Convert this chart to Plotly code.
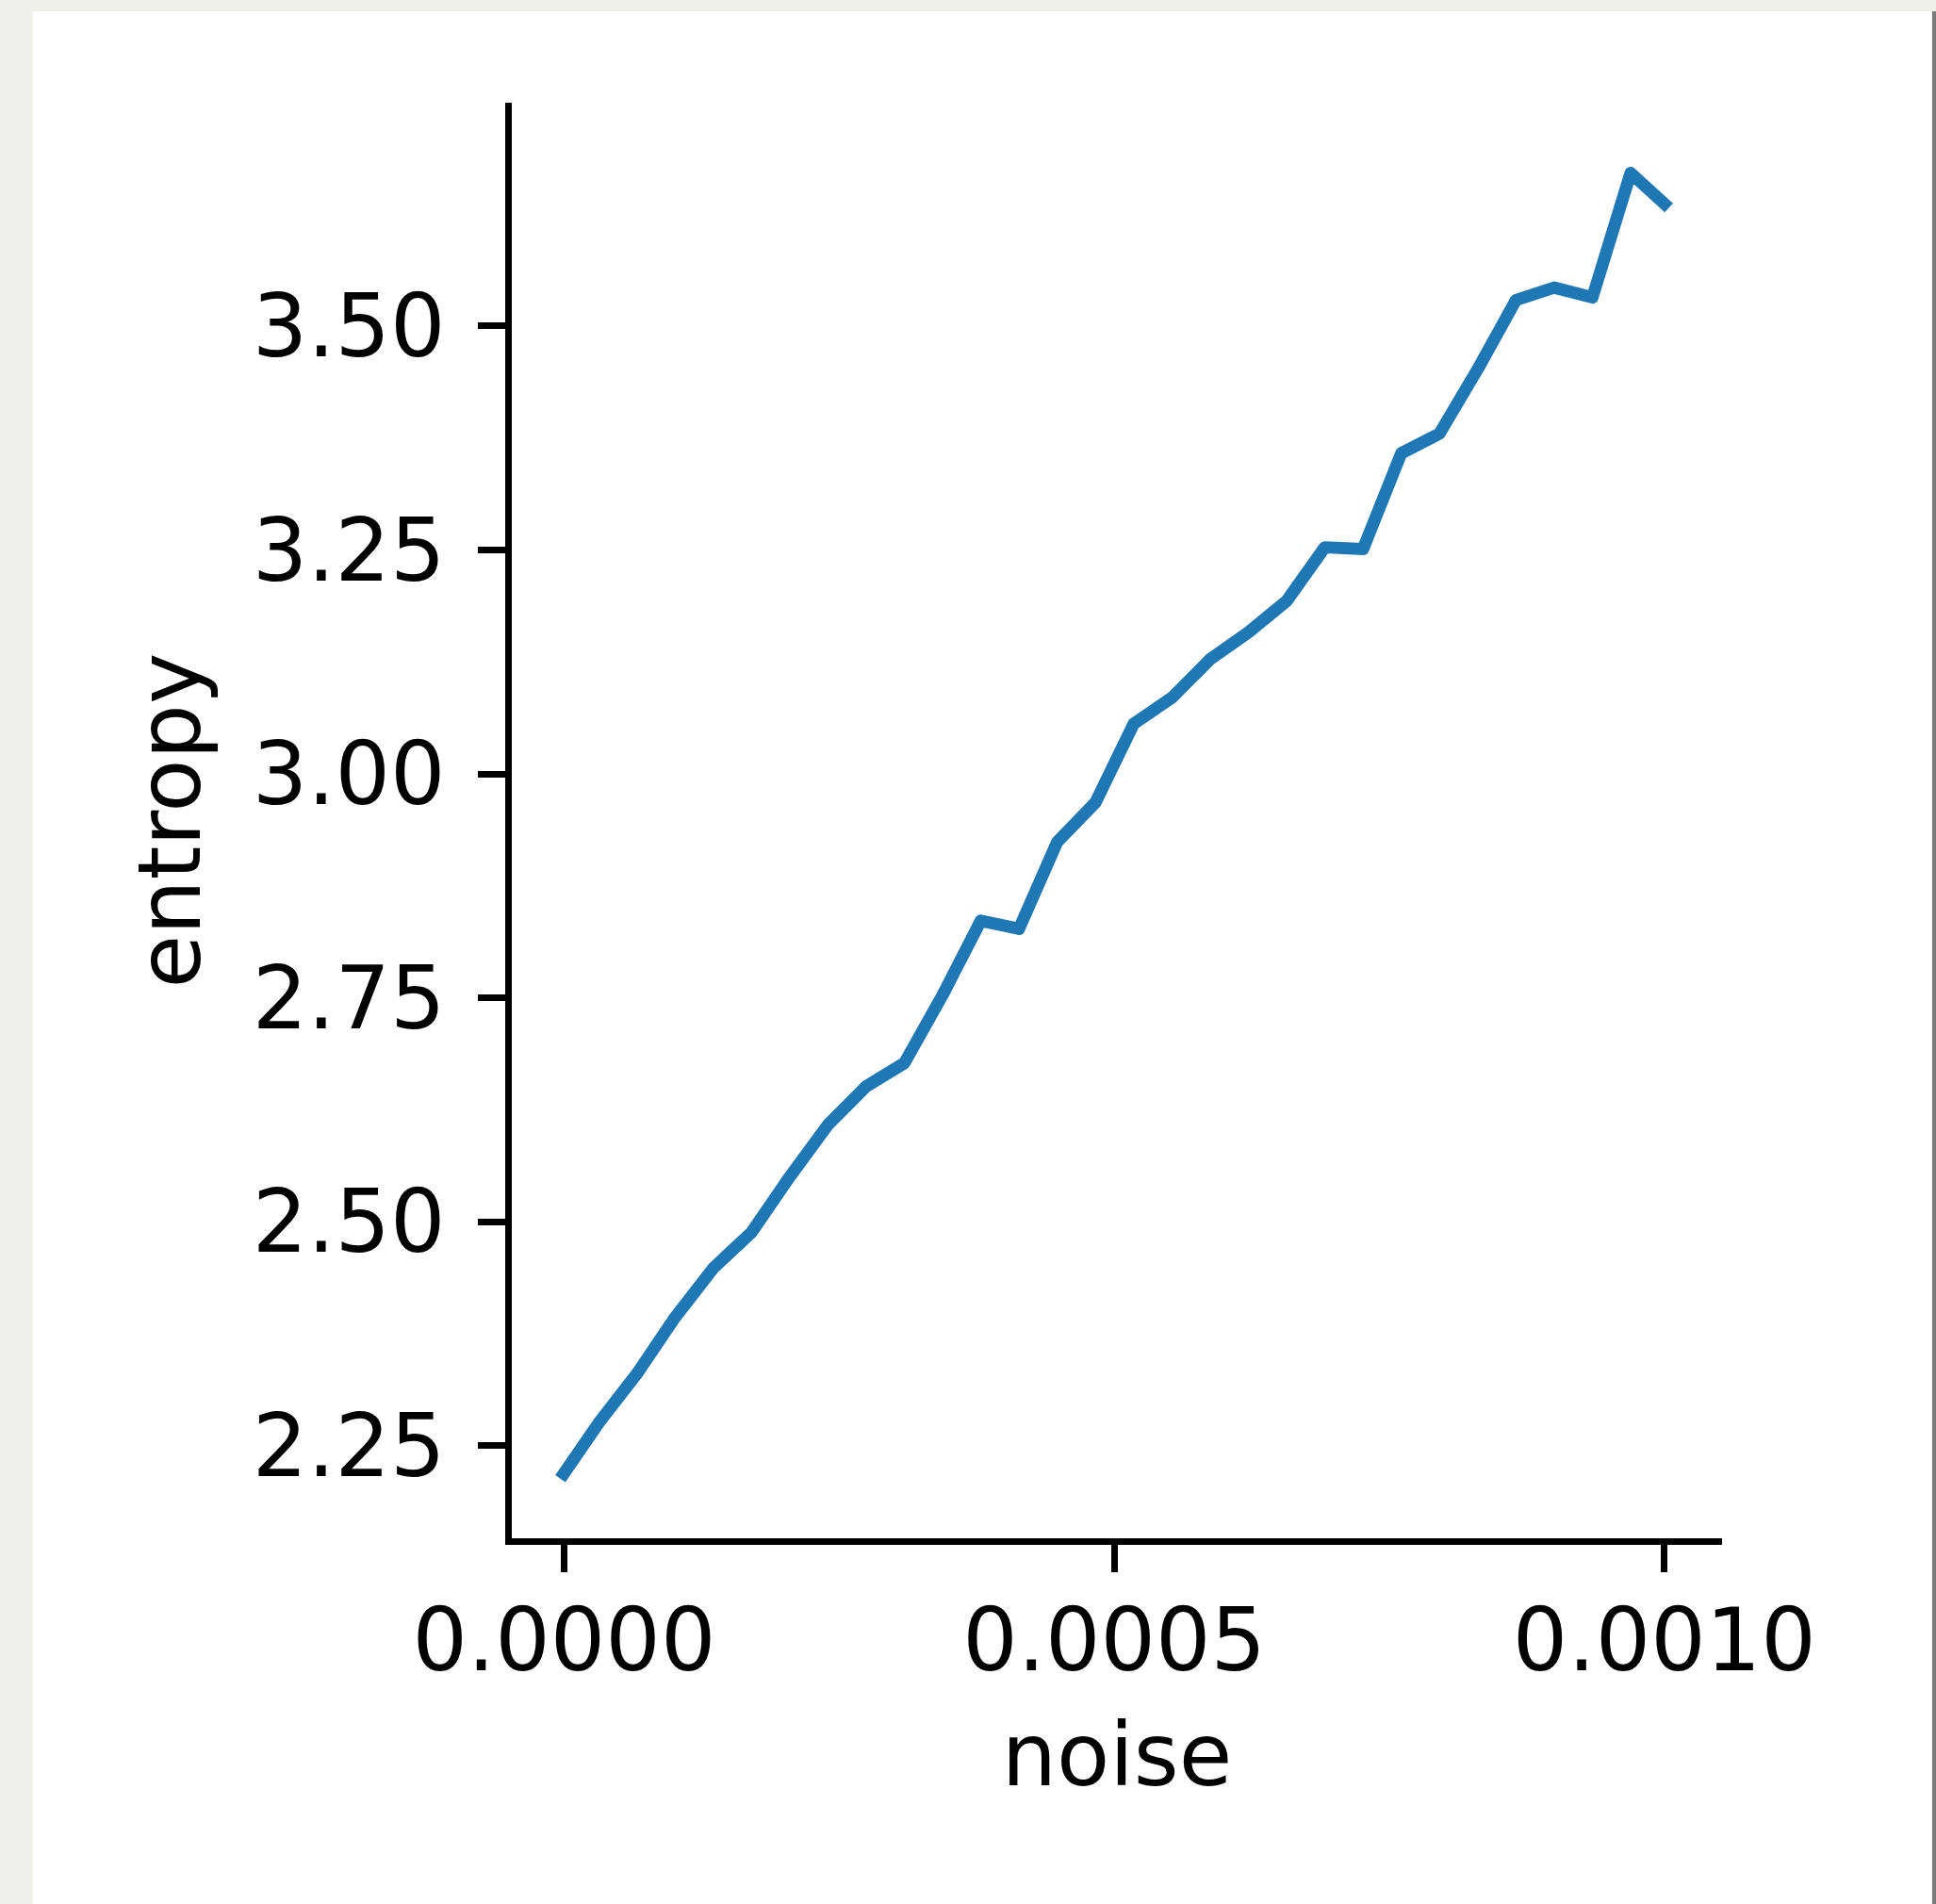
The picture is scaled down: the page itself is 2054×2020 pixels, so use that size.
import plotly.graph_objects as go

# ---- data ----
noise = [-3.4e-6, 3.134e-5, 6.608e-5, 1.0082e-4, 1.3556e-4, 1.7030e-4, 2.0504e-4,
         2.3978e-4, 2.7452e-4, 3.0926e-4, 3.4400e-4, 3.7874e-4, 4.1348e-4,
         4.4822e-4, 4.8296e-4, 5.1770e-4, 5.5244e-4, 5.8718e-4, 6.2192e-4,
         6.5666e-4, 6.9140e-4, 7.2614e-4, 7.6088e-4, 7.9562e-4, 8.3036e-4,
         8.6510e-4, 8.9984e-4, 9.3458e-4, 9.6932e-4, 1.00406e-3]
entropy = [2.213, 2.275, 2.330, 2.393, 2.448, 2.488, 2.550, 2.608, 2.651, 2.677,
           2.753, 2.836, 2.827, 2.924, 2.968, 3.056, 3.085, 3.128, 3.158, 3.193,
           3.253, 3.251, 3.358, 3.380, 3.452, 3.529, 3.543, 3.532, 3.671, 3.632]

x_tickvals = [0.0, 0.0005, 0.001]
x_ticktext = ["0.0000", "0.0005", "0.0010"]
y_tickvals = [2.25, 2.50, 2.75, 3.00, 3.25, 3.50]
y_ticktext = ["2.25", "2.50", "2.75", "3.00", "3.25", "3.50"]

W, H = 2054, 2020
L, R, T, B = 542.5, 1827, 109, 1632.5

fig = go.Figure()
fig.add_trace(go.Scatter(x=noise, y=entropy, mode="lines",
                         line=dict(color="#1f77b4", width=13),
                         showlegend=False, hoverinfo="skip"))

font = dict(family="DejaVu Sans", size=92, color="black")


def px_to_paper_x(px):
    return (px - L) / (R - L)


def px_to_paper_y(py):
    return (B - py) / (B - T)


fig.update_layout(
    width=W, height=H,
    margin=dict(l=L, r=W - R, t=T, b=H - B, pad=0),
    paper_bgcolor="#efefec",
    plot_bgcolor="rgba(0,0,0,0)",
    font=font,
    shapes=[
        dict(type="rect", xref="paper", yref="paper", layer="below",
             x0=px_to_paper_x(34), x1=px_to_paper_x(2050),
             y0=px_to_paper_y(2030), y1=px_to_paper_y(12),
             fillcolor="white", line=dict(width=0)),
        dict(type="rect", xref="paper", yref="paper", layer="below",
             x0=px_to_paper_x(2050), x1=px_to_paper_x(2056),
             y0=px_to_paper_y(2030), y1=px_to_paper_y(12),
             fillcolor="#7a7a7a", line=dict(width=0)),
    ],
)

fig.update_xaxes(
    range=[-4.753e-5, 1.05241e-3],
    tickvals=x_tickvals, ticktext=x_ticktext,
    showline=True, linecolor="black", linewidth=7,
    ticks="outside", ticklen=29, tickwidth=7, tickcolor="black",
    showgrid=False, zeroline=False,
    tickfont=font, ticklabelstandoff=-6,
    title=dict(text="noise", font=font, standoff=39),
)
fig.update_yaxes(
    range=[2.1464, 3.7494],
    tickvals=y_tickvals, ticktext=y_ticktext,
    showline=True, linecolor="black", linewidth=7,
    ticks="outside", ticklen=29, tickwidth=7, tickcolor="black",
    showgrid=False, zeroline=False,
    tickfont=font, ticklabelstandoff=16,
    title=dict(text="entropy", font=font, standoff=27),
)

fig.write_html(
    "out.html",
    config={"displayModeBar": False},
    post_script=(
        "document.body.style.margin='0';"
        "document.body.style.background='#efefec';"
        "document.querySelectorAll('.js-line').forEach(function(p){"
        "p.style.strokeLinejoin='round';});"
    ),
)
